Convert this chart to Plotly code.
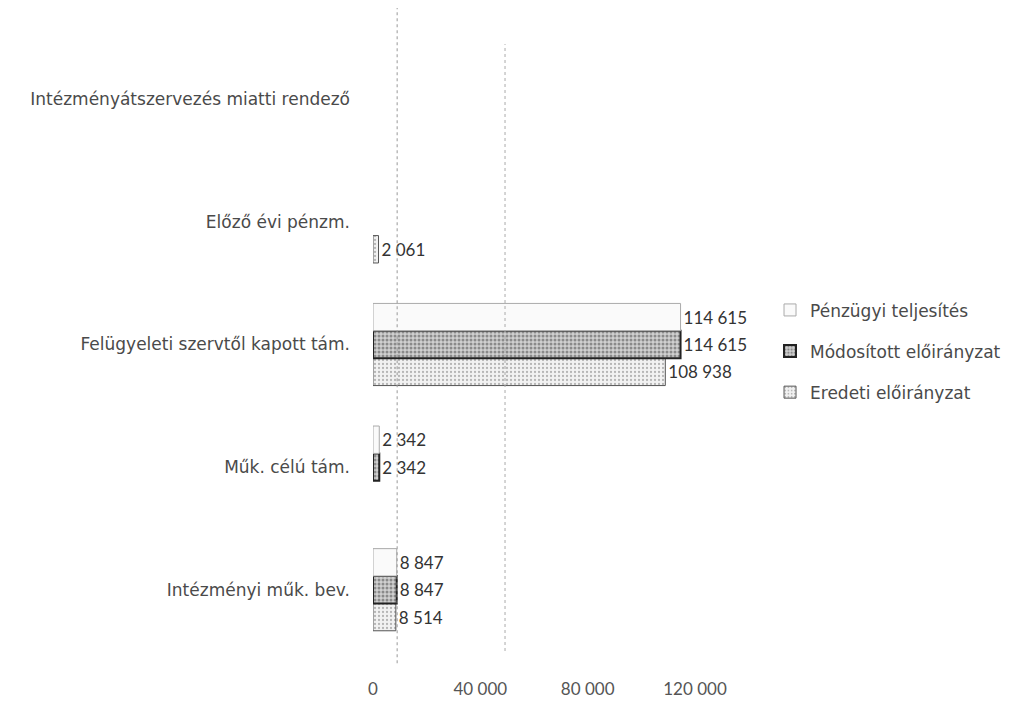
import plotly.graph_objects as go

categories = [
    "Intézményi műk. bev.",
    "Műk. célú tám.",
    "Felügyeleti szervtől kapott tám.",
    "Előző évi pénzm.",
    "Intézményátszervezés miatti rendező",
]
eredeti = [8514, None, 108938, 2061, None]
modositott = [8847, 2342, 114615, None, None]
penzugyi = [8847, 2342, 114615, None, None]
x_ticks = [0, 40000, 80000, 120000]
x_tick_labels = ["0", "40 000", "80 000", "120 000"]


def fmt(vals):
    return ["" if v is None else f"{v:,}".replace(",", " ") for v in vals]


NUMFONT = "Lato, 'Open Sans', sans-serif"
TXTFONT = "'DejaVu Sans', 'Open Sans', sans-serif"

fig = go.Figure()

series = [
    ("Eredeti előirányzat", eredeti, 3,
     dict(color="#eeeeee", pattern=dict(shape=".", fgcolor="#777777", bgcolor="#f2f2f2", solidity=0.25, size=4),
          line=dict(color="#555555", width=1))),
    ("Módosított előirányzat", modositott, 2,
     dict(color="#bdbdbd", pattern=dict(shape=".", fgcolor="#444444", bgcolor="#d0d0d0", solidity=0.45, size=4),
          line=dict(color="#222222", width=2))),
    ("Pénzügyi teljesítés", penzugyi, 1,
     dict(color="#fafafa", line=dict(color="#aaaaaa", width=1))),
]

for name, vals, rank, marker in series:
    fig.add_trace(go.Bar(
        y=categories, x=vals, orientation="h", name=name,
        marker=marker,
        text=fmt(vals), textposition="outside",
        textfont=dict(family=NUMFONT, size=17, color="#333333"),
        cliponaxis=False, legendgroup=name, legendrank=rank,
    ))

fig.update_layout(
    width=1034, height=703,
    paper_bgcolor="white", plot_bgcolor="white",
    barmode="group", bargap=0.33, bargroupgap=0,
    margin=dict(l=365, r=347, t=30, b=34),
    font=dict(family=TXTFONT, size=16, color="#4a4a4a"),
    showlegend=True,
    legend=dict(
        x=1.233, y=0.585, xanchor="left", yanchor="top",
        traceorder="grouped", tracegroupgap=16,
        font=dict(family=TXTFONT, size=17, color="#4a4a4a"),
        bgcolor="rgba(0,0,0,0)", itemwidth=30,
    ),
    xaxis=dict(
        range=[0, 120000], tickvals=x_ticks, ticktext=x_tick_labels,
        showgrid=False, zeroline=False, showline=False, ticks="",
        ticklabelstandoff=26,
        tickfont=dict(family=NUMFONT, size=17, color="#555555"),
    ),
    yaxis=dict(
        showgrid=False, zeroline=False, showline=False, ticks="",
        ticklabelstandoff=22,
        tickfont=dict(family=TXTFONT, size=17, color="#4a4a4a"),
    ),
    shapes=[
        dict(type="line", xref="paper", yref="paper", x0=0.075, x1=0.075, y0=-0.02, y1=1.05,
             line=dict(color="#999999", width=1, dash="dot")),
        dict(type="line", xref="paper", yref="paper", x0=0.41, x1=0.41, y0=0.0, y1=0.99,
             line=dict(color="#aaaaaa", width=1, dash="dot")),
    ],
)

fig.write_html("out.html")
